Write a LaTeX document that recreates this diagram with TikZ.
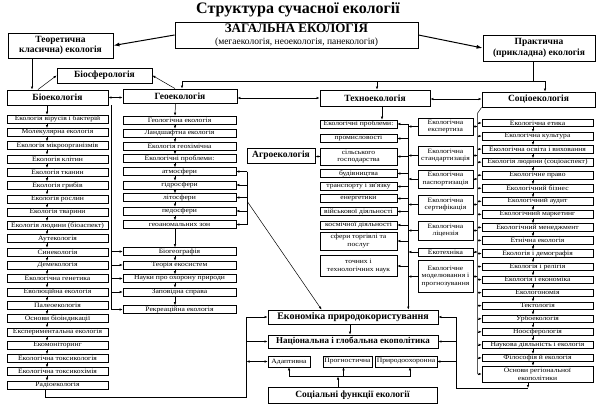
\documentclass[tikz,border=0pt]{standalone}
\usepackage{fontspec}
\setmainfont{Liberation Serif}
\newfontfamily\widefont{Liberation Serif}[FakeStretch=1.15]
\usetikzlibrary{positioning,calc,arrows.meta}

\tikzset{
  >={Latex[length=3pt,width=2.4pt]},
  head/.style={draw, line width=0.9pt, inner sep=1pt, align=center,
    font=\bfseries\fontsize{9.5}{10.5}\selectfont},
  item/.style={draw, line width=0.6pt, inner sep=0pt, minimum height=8pt,
    align=center, font=\widefont\fontsize{6.6}{7.8}\selectfont},
  link/.style={line width=0.5pt},
  bigarrow/.style={line width=1pt, -{Latex[length=6pt,width=4pt]}},
}

\begin{document}
\begin{tikzpicture}[x=1pt,y=-1pt]
\useasboundingbox (0,0) rectangle (600,410);

% top level
\node[font=\bfseries\fontsize{16}{17}\selectfont] (title) at (298,10) {Структура сучасної екології};
\node[head, minimum width=243pt, minimum height=26pt, font=\bfseries\fontsize{13}{13}\selectfont] (zag) at (296.5,35)
  {ЗАГАЛЬНА ЕКОЛОГІЯ\\[-1.5pt]{\normalfont\fontsize{9.5}{9.5}\selectfont (мегаекологія, неоекологія, панекологія)}};
\node[head, minimum width=105pt, minimum height=25pt] (teor) at (60.5,45.5) {Теоретична\\класична) екологія};
\node[head, minimum width=112pt, minimum height=26pt] (prakt) at (539,48) {Практична\\(прикладна) екологія};
\node[head, minimum width=95pt, minimum height=15pt] (biosf) at (104.5,75.5) {Біосферологія};

% branches
\node[head, minimum width=101pt, minimum height=15pt] (bio) at (57.5,97.5) {Біоекологія};
\node[head, minimum width=114pt, minimum height=14pt] (geo) at (180,96) {Геоекологія};
\node[head, minimum width=110pt, minimum height=16pt] (techno) at (375,98) {Техноекологія};
\node[head, minimum width=113pt, minimum height=15pt] (socio) at (538.5,99.5) {Соціоекологія};
\node[head, minimum width=68pt, minimum height=15pt] (agro) at (281,155.5) {Агроекологія};

% bottom block
\node[head, minimum width=170pt, minimum height=14pt, font=\bfseries\fontsize{10}{10}\selectfont] (econ) at (353,317) {Економіка природокористування};
\node[head, minimum width=170pt, minimum height=13pt, font=\bfseries\fontsize{9}{9}\selectfont] (nat) at (353,341.5) {Національна і глобальна екополітика};
\node[item, minimum width=42pt, minimum height=11pt] (adapt) at (289,361.5) {Адаптивна};
\node[item, minimum width=49pt, minimum height=11pt] (prog) at (347.5,361.5) {Прогностична};
\node[item, minimum width=62pt, minimum height=11pt] (prir) at (406,361.5) {Природоохоронна};
\node[head, minimum width=169pt, minimum height=16pt] (soc) at (352.5,395) {Соціальні функції екології};

% bio column
\foreach \t [count=\i] in {Екологія вірусів і бактерій, Молекулярна екологія, Екологія мікроорганізмів,
  Екологія клітин, Екологія тканин, Екологія грибів, Екологія рослин, Екологія тварини,
  Екологія людини (біоаспект), Аутекологія, Синекологія, Демекологія, Екологічна генетика,
  Еволюційна екологія, Палеоекологія, Основи біоіндикації, Експериментальна екологія,
  Екомоніторинг, Екологічна токсикологія, Екологічна токсикохімія, Радіоекологія}
  \node[item, minimum width=101pt] (b\i) at (57.5,105.7+13.3*\i) {\t};

% geo column
\foreach \y/\t [count=\i] in {120/Геологічна екологія, 133/Ландшафтна екологія, 146.5/Екологія геохімічна,
  158.5/Екологічні проблеми:, 171.5/атмосфери, 185/гідросфери, 197.5/літосфери, 211/педосфери,
  224.5/геоаномальних зон, 251.5/Біогеографія, 265/Теорія екосистем, 278.5/Науки про охорону природи,
  292/Заповідна справа, 309.5/Рекреаційна екологія}
  \node[item, minimum width=113pt] (g\i) at (179.5,\y) {\t};

% techno column
\foreach \y/\h/\t [count=\i] in {124/8/Екологічні проблеми:, 138.5/7.5/промисловості,
  156.5/17/сільського\\господарства, 173.5/7.5/будівництва, 186.5/7.5/транспорту і зв'язку,
  198.5/7.5/енергетики, 211.5/8.5/військової діяльності, 225/8/космічної діяльності,
  241/18/сфери торгівлі та\\послуг, 266/21/точних і\\технологічних наук}
  \node[item, minimum width=77pt, minimum height=\h pt] (t\i) at (358.5,\y) {\t};

\foreach \y/\h/\t [count=\i] in {126.5/17/Екологічна\\експертиза, 155.5/19/Екологічна\\стандартизація,
  179/18/Екологічна\\паспортизація, 204.5/19/Екологічна\\сертифікація, 230.5/19/Екологічна\\ліцензія,
  252/8/Екотехніка, 276.5/32/Екологічне\\моделювання і\\прогнозування}
  \node[item, minimum width=55pt, minimum height=\h pt] (r\i) at (445.5,\y) {\t};

% socio column
\foreach \t [count=\i] in {Екологічна етика, Екологічна культура, Екологічна освіта і виховання,
  Екологія людини (соціоаспект), Екологічне право, Екологічний бізнес, Екологічний аудит,
  Екологічний маркетинг, Екологічний менеджмент, Етнічна екологія, Екологія і демографія,
  Екологія і релігія, Екологія і економіка, Екологономія, Тектологія, Урбоекологія,
  Ноосферологія, Наукова діяльність і екологія, Філософія й екологія}
  \node[item, minimum width=111pt, minimum height=7.5pt] (s\i) at (537.5,109.95+13.05*\i) {\t};
\node[item, minimum width=111pt, minimum height=16pt] (s20) at (537.5,374) {Основи регіональної\\екополітики};

% connectors: top
\draw[bigarrow] (zag.west) -- (teor.east);
\draw[bigarrow] (zag.east) -- (prakt.west);
\coordinate (bus) at ($(prakt.south)+(-6,20)$);
\draw[link] ([xshift=-6pt]prakt.south) -- (bus);
\draw[link] ([xshift=2pt]geo.north |- bus) -- ([xshift=6.5pt]socio.north |- bus);
\draw[link,->] ([xshift=2pt]geo.north |- bus) -- ([xshift=2pt]geo.north);
\draw[link,->] ([xshift=2pt]techno.north |- bus) -- ([xshift=2pt]techno.north);
\draw[link,->] ([xshift=6.5pt]socio.north |- bus) -- ([xshift=6.5pt]socio.north);
\draw[link,->] ([xshift=-28.5pt]teor.south) -- ([xshift=-28.5pt]teor.south |- bio.north);
\draw[link,->] ([xshift=-19.5pt]bio.north) -- (biosf.west);
\draw[link,->] ([xshift=-5pt]geo.north) -- (biosf.east);
\draw[link,<->] (bio.east) -- (bio.east -| geo.west);
\draw[link,<->] ([yshift=-2pt]geo.east) -- ([yshift=-2pt]geo.east -| techno.west);
\draw[link,<->] ([yshift=-1pt]techno.east) -- ([yshift=-1pt]techno.east -| socio.west);

% bio chain
\draw[link,->] ([xshift=-10.5pt]bio.south) -- ([xshift=-10.5pt]b1.north);
\foreach \i in {1,...,20}{
  \pgfmathtruncatemacro\j{\i+1}
  \draw[link,->] ([xshift=-10.5pt]b\i.south) -- ([xshift=-10.5pt]b\j.north);
}
\coordinate (bline) at ($(bio.south east)+(3,0)$);
\draw[link] (bline) -- (bline |- g14.west);
\foreach \i in {10,...,14}
  \draw[link,->] (bline |- g\i.west) -- (g\i.west);

% geo chain
\draw[link,->] ([xshift=-4.5pt]geo.south) -- ([xshift=-4.5pt]g1.north);
\foreach \i in {1,...,13}{
  \pgfmathtruncatemacro\j{\i+1}
  \draw[link,->] ([xshift=-4.5pt]g\i.south) -- ([xshift=-4.5pt]g\j.north);
}
\coordinate (gline) at ($(g5.east)+(11,0)$);
\draw[link] (gline) -- (gline |- g9.east);
\foreach \i in {5,...,9}
  \draw[link,->] (gline |- g\i.east) -- (g\i.east);
\draw[link,->] ($(gline |- g7.east)+(0,4)$) -- ($(econ.north west)+(54,0)$);

% techno
\draw[link,->] ([xshift=7pt]techno.south) -- ([xshift=7pt]techno.south |- t1.north);
\coordinate (tline) at ($(t1.east)+(11,0)$);
\draw[link,->] (tline) -- (tline |- econ.north);
\foreach \i in {1,...,10}
  \draw[link,->] (tline |- t\i.east) -- (t\i.east);
\foreach \i in {1,...,7}
  \draw[link,->] (r\i.west) -- (r\i.west -| tline);
\draw[link,->] (t3.west) -- (t3.west -| agro.east);

% socio
\coordinate (sline) at ($(s1.west)+(-4,-10)$);
\draw[link] (socio.south west) -- (sline) -- (sline |- s20.west);
\foreach \i in {1,...,20}
  \draw[link,->] (sline |- s\i.west) -- (s\i.west);
\foreach \i in {1,...,7}
  \draw[link,->] (r\i.east) -- (r\i.east -| sline);
\foreach \i in {1,...,19}{
  \pgfmathtruncatemacro\j{\i+1}
  \draw[link,->] ([xshift=-4.5pt]s\i.south) -- ([xshift=-4.5pt]s\j.north);
}

% bottom
\coordinate (lcorner) at ($(econ.west)+(-21,80)$);
\draw[link] ([xshift=-12.5pt]b21.south) |- (lcorner) -- (lcorner |- econ.west);
\draw[link,->] (lcorner |- econ.west) -- (econ.west);
\draw[link,->] (lcorner |- nat.west) -- (nat.west);
\draw[link,<->] (lcorner |- adapt.west) -- (adapt.west);
\coordinate (rcorner) at ($(econ.east)+(18,71)$);
\draw[link,->] ([xshift=-9.5pt]s20.south) -- ([xshift=-9.5pt]s20.south |- rcorner);
\draw[link] ([xshift=-9.5pt]s20.south |- rcorner) -- (rcorner) -- (rcorner |- econ.east);
\draw[link,->] (rcorner |- econ.east) -- (econ.east);
\draw[link,->] (rcorner |- nat.east) -- (nat.east);
\draw[link,->] (rcorner |- prir.east) -- (prir.east);
\draw[link,->] ([xshift=-3pt]econ.south) -- ([xshift=-3pt]econ.south |- nat.north);
\coordinate (fbus) at ($(soc.north)+(0,-10)$);
\draw[link,->] ([xshift=-14.5pt]soc.north) -- ([xshift=-14.5pt]soc.north |- fbus);
\draw[link] (adapt.south |- fbus) -- ([xshift=4pt]prir.south |- fbus);
\draw[link,->] (adapt.south |- fbus) -- (adapt.south);
\draw[link,->] ([xshift=-4pt]prog.south |- fbus) -- ([xshift=-4pt]prog.south);
\draw[link,->] ([xshift=4pt]prir.south |- fbus) -- ([xshift=4pt]prir.south);
\end{tikzpicture}
\end{document}
